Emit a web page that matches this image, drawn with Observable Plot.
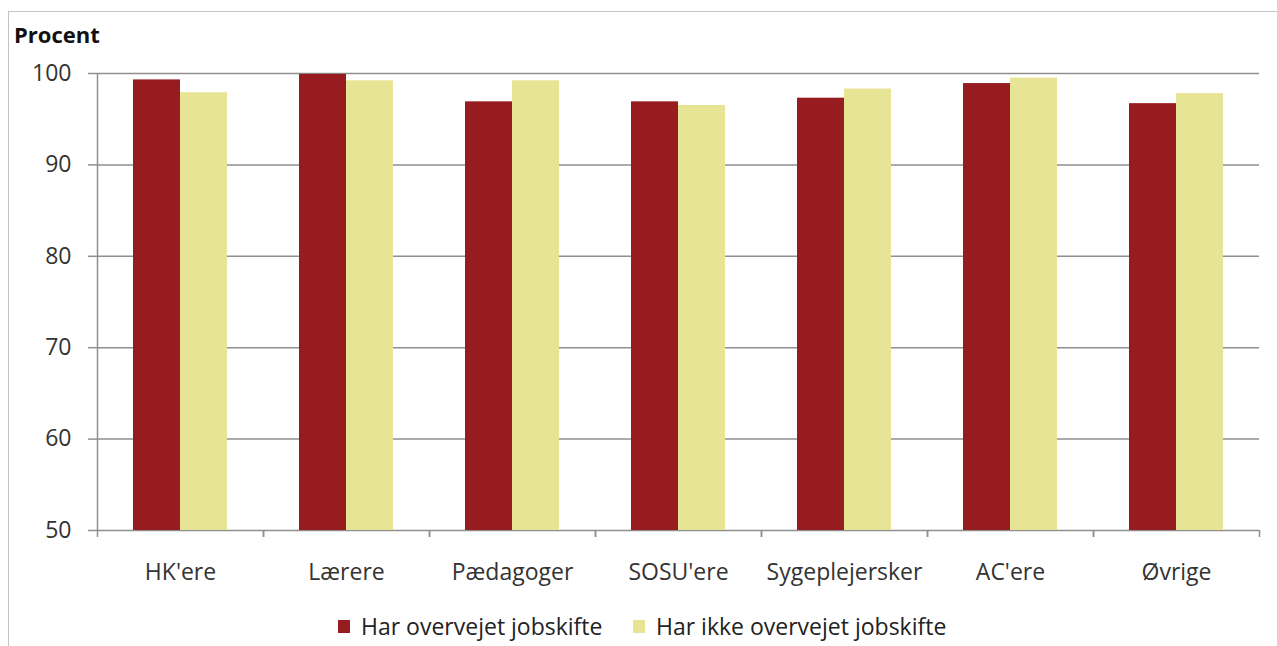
<!DOCTYPE html>
<html>
<head>
<meta charset="utf-8">
<script src="https://cdn.jsdelivr.net/npm/d3@7"></script>
<script src="https://cdn.jsdelivr.net/npm/@observablehq/plot@0.6"></script>
<style>
  body { margin: 0; background: #fff; font-family: "Open Sans", sans-serif; }
  #wrap { position: relative; width: 1277px; height: 646px; overflow: hidden; background: #fff; }
  #border { position: absolute; left: 8px; top: 11px; width: 1400px; height: 800px; border: 1px solid #c3c3c3; }
  #chart { position: absolute; left: 0; top: 0; }
  #ylabel { position: absolute; left: 14px; top: 19px; font-weight: bold; font-size: 22px; color: #111; }
  .leg { position: absolute; top: 610px; font-size: 23px; color: #222; display: flex; align-items: center; white-space: nowrap; }
  .sw { width: 12px; height: 13px; margin-right: 11px; display: inline-block; }
</style>
</head>
<body>
<div id="wrap">
  <div id="border"></div>
  <div id="chart"></div>
  <div id="ylabel">Procent</div>
  <div id="leg1" class="leg" style="left:338px"><span class="sw"></span><span class="lt"></span></div>
  <div id="leg2" class="leg" style="left:633px"><span class="sw"></span><span class="lt"></span></div>
</div>
<script>
const categories = ["HK'ere", "Lærere", "Pædagoger", "SOSU'ere", "Sygeplejersker", "AC'ere", "Øvrige"];
const series = ["Har overvejet jobskifte", "Har ikke overvejet jobskifte"];
const considered = [99.3, 99.9, 96.9, 96.9, 97.3, 98.9, 96.7];
const notConsidered = [97.9, 99.2, 99.2, 96.5, 98.3, 99.5, 97.8];
const yTicks = [50, 60, 70, 80, 90, 100];
const colors = ["#971c1f", "#e8e496"];

const W = 1277, ML = 97, MR = 18;
const step = (W - ML - MR) / categories.length;
const yMin = yTicks[0], yMax = yTicks[yTicks.length - 1];

const rows1 = categories.map((c, i) => ({category: c, series: series[0], value: considered[i]}));
const rows2 = categories.map((c, i) => ({category: c, series: series[1], value: notConsidered[i]}));

const grid = "#8f8f8f";
const chart = Plot.plot({
  width: W,
  height: 600,
  marginLeft: ML,
  marginRight: MR,
  marginTop: 73,
  marginBottom: 70,
  style: {fontFamily: "Open Sans, sans-serif", fontSize: "23px", color: "#333", background: "transparent"},
  x: {type: "band", domain: categories, padding: 0, round: false},
  y: {domain: [yMin, yMax]},
  color: {domain: series, range: colors},
  marks: [
    Plot.gridY(yTicks, {stroke: grid, strokeOpacity: 1, strokeWidth: 1.5}),
    Plot.barY(rows1, {x: "category", y1: yMin, y2: "value", fill: "series", insetLeft: 36, insetRight: step - 83}),
    Plot.barY(rows2, {x: "category", y1: yMin, y2: "value", fill: "series", insetLeft: 83, insetRight: step - 130}),
    Plot.ruleX([categories[0]], {x: d => d, y1: yMin, y2: yMax, dx: -step / 2, stroke: grid, strokeWidth: 1.5}),
    Plot.axisY({ticks: yTicks, tickSize: 9, tickPadding: 17, stroke: grid, strokeWidth: 1.5, fontSize: 23, label: null, tickFormat: d => d}),
    Plot.axisX({tickSize: 7, text: null, dx: -step / 2, stroke: grid, strokeWidth: 1.5, label: null}),
    Plot.axisX({tickSize: 7, text: null, dx: step / 2, stroke: grid, strokeWidth: 1.5, label: null}),
    Plot.axisX({tickSize: 0, tickPadding: 33, fontSize: 23, label: null})
  ]
});
document.getElementById("chart").appendChild(chart);

[["leg1", 0], ["leg2", 1]].forEach(([id, i]) => {
  const el = document.getElementById(id);
  el.querySelector(".sw").style.background = colors[i];
  el.querySelector(".lt").textContent = series[i];
});
</script>
</body>
</html>
